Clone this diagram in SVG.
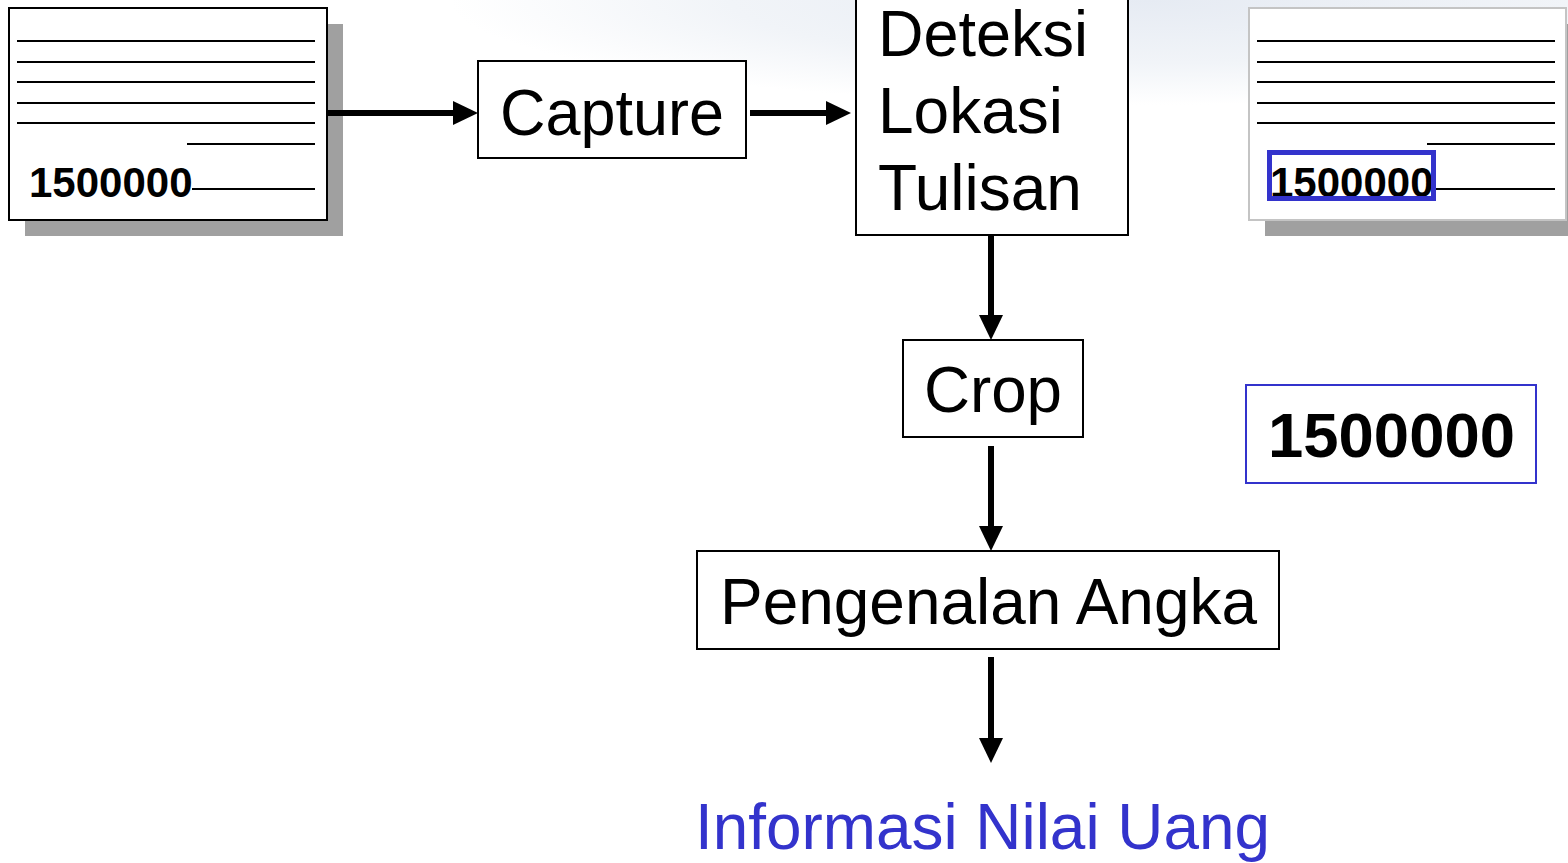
<svg xmlns="http://www.w3.org/2000/svg" width="1568" height="863" viewBox="0 0 1568 863">
<defs>
<radialGradient id="bg" cx="1150" cy="0" r="700" gradientUnits="userSpaceOnUse" gradientTransform="translate(1150 0) scale(1 0.15) translate(-1150 0)">
<stop offset="0" stop-color="#e6ebf3"/>
<stop offset="0.6" stop-color="#f1f4f8"/>
<stop offset="1" stop-color="#ffffff"/>
</radialGradient>
<style>
.box{fill:#fff;stroke:#000;stroke-width:2}
.lbl{font-family:"Liberation Sans",Arial,sans-serif;font-size:64px;fill:#000}
.num{font-family:"Liberation Sans",Arial,sans-serif;font-weight:bold;fill:#000}
.ln{stroke:#000;stroke-width:2}
.sh{fill:#a0a0a0}
.shaft{stroke:#000;stroke-width:6;fill:none}
.head{fill:#000}
</style>
</defs>
<rect width="1568" height="863" fill="#fff"/>
<rect x="0" y="0" width="1568" height="120" fill="url(#bg)"/>

<g id="doc-input">
<rect class="sh" x="25" y="24" width="318" height="212"/>
<rect class="box" x="9" y="8" width="318" height="212"/>
<line class="ln" x1="17" y1="41" x2="315" y2="41"/>
<line class="ln" x1="17" y1="62" x2="315" y2="62"/>
<line class="ln" x1="17" y1="82" x2="315" y2="82"/>
<line class="ln" x1="17" y1="103" x2="315" y2="103"/>
<line class="ln" x1="17" y1="123" x2="315" y2="123"/>
<line class="ln" x1="187" y1="144" x2="315" y2="144"/>
<line class="ln" x1="192" y1="189" x2="315" y2="189"/>
<text class="num" x="29" y="197" font-size="42">1500000</text>
</g>

<g id="capture">
<rect class="box" x="478" y="61" width="268" height="97"/>
<text class="lbl" x="500" y="135" textLength="224" lengthAdjust="spacingAndGlyphs">Capture</text>
</g>

<g id="deteksi">
<rect class="box" x="856" y="-5" width="272" height="240"/>
<text class="lbl" x="878" y="56" textLength="210" lengthAdjust="spacingAndGlyphs">Deteksi</text>
<text class="lbl" x="878" y="133">Lokasi</text>
<text class="lbl" x="878" y="210">Tulisan</text>
</g>

<g id="doc-detected">
<rect class="sh" x="1265" y="24" width="310" height="212"/>
<rect x="1249" y="8" width="317" height="212" fill="#fff" stroke="#c4c4c4" stroke-width="2"/>
<line class="ln" x1="1257" y1="41" x2="1555" y2="41"/>
<line class="ln" x1="1257" y1="62" x2="1555" y2="62"/>
<line class="ln" x1="1257" y1="82" x2="1555" y2="82"/>
<line class="ln" x1="1257" y1="103" x2="1555" y2="103"/>
<line class="ln" x1="1257" y1="123" x2="1555" y2="123"/>
<line class="ln" x1="1427" y1="144" x2="1555" y2="144"/>
<line class="ln" x1="1432" y1="189" x2="1555" y2="189"/>
<text class="num" x="1270" y="197" font-size="42">1500000</text>
<rect x="1269.5" y="152.5" width="164" height="46" fill="none" stroke="#3333cc" stroke-width="5"/>
</g>

<g id="crop">
<rect class="box" x="903" y="340" width="180" height="97"/>
<text class="lbl" x="924" y="412" textLength="138" lengthAdjust="spacingAndGlyphs">Crop</text>
</g>

<g id="cropped-number">
<rect x="1246" y="385" width="290" height="98" fill="#fff" stroke="#3333cc" stroke-width="2"/>
<text class="num" x="1268" y="457" font-size="63" textLength="247" lengthAdjust="spacingAndGlyphs">1500000</text>
</g>

<g id="pengenalan">
<rect class="box" x="697" y="551" width="582" height="98"/>
<text class="lbl" x="720" y="624" textLength="537" lengthAdjust="spacingAndGlyphs">Pengenalan Angka</text>
</g>

<g id="output">
<text class="lbl" x="695" y="849" textLength="575" lengthAdjust="spacingAndGlyphs" style="fill:#3333cc;font-size:65px">Informasi Nilai Uang</text>
</g>

<g id="connectors">
<line class="shaft" x1="327" y1="113" x2="456" y2="113"/>
<polygon class="head" points="453,101 478,113 453,125"/>
<line class="shaft" x1="750" y1="113" x2="829" y2="113"/>
<polygon class="head" points="826,101 851,113 826,125"/>
<line class="shaft" x1="991" y1="235" x2="991" y2="318"/>
<polygon class="head" points="979,315 991,340 1003,315"/>
<line class="shaft" x1="991" y1="446" x2="991" y2="529"/>
<polygon class="head" points="979,526 991,551 1003,526"/>
<line class="shaft" x1="991" y1="657" x2="991" y2="741"/>
<polygon class="head" points="979,738 991,763 1003,738"/>
</g>
</svg>
